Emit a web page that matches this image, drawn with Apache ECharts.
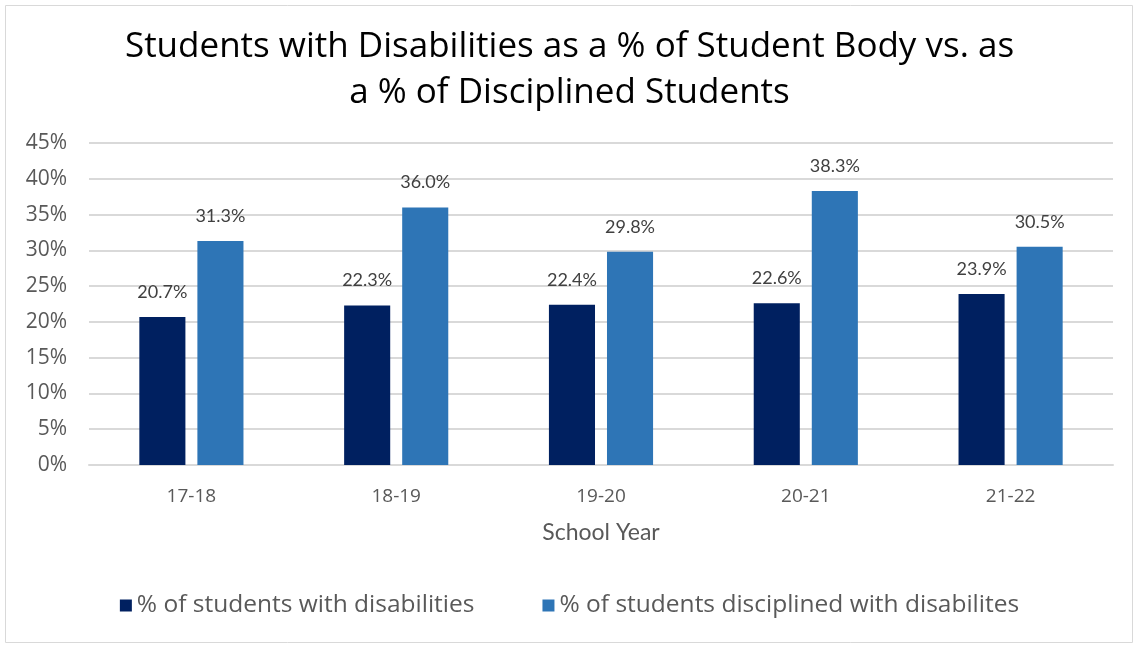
<!DOCTYPE html>
<html><head><meta charset="utf-8">
<script src="https://cdn.jsdelivr.net/npm/echarts@6/dist/echarts.min.js"></script>
<style>html,body{margin:0;padding:0;background:#fff}#c{width:1139px;height:648px}</style>
</head><body><div id="c"></div>
<script>
const categories = ['17-18','18-19','19-20','20-21','21-22'];
const pctWithDisabilities = [20.7, 22.3, 22.4, 22.6, 23.9];
const pctDisciplinedWithDisabilities = [31.3, 36.0, 29.8, 38.3, 30.5];
const seriesNames = ['% of students with disabilities','% of students disciplined with disabilites'];
const titleText = 'Students with Disabilities as a % of Student Body vs. as\na % of Disciplined Students';

const chart = echarts.init(document.getElementById('c'));
const labelStyle = {show:true, position:'top', distance:16, color:'#404040', fontSize:18, fontFamily:'Lato', formatter: p => p.value.toFixed(1) + '%'};
chart.setOption({
  animation:false,
  graphic:[{type:'rect', shape:{x:5.5,y:5.5,width:1127,height:637}, style:{fill:'none', stroke:'#d9d9d9', lineWidth:1}, silent:true}],
  title:{text:titleText, left:'center', top:19, textStyle:{fontFamily:'Open Sans', fontWeight:'normal', fontSize:35, lineHeight:46, color:'#000'}},
  legend:{bottom:25, left:'center', itemGap:68, itemWidth:12, itemHeight:12, icon:'rect',
    textStyle:{fontFamily:'Open Sans', fontSize:24.5, color:'#595959'}, data:seriesNames},
  grid:{left:89, right:26, top:143, bottom:183},
  xAxis:{type:'category', data:categories,
    axisLine:{lineStyle:{color:'#d9d9d9', width:2}}, axisTick:{show:false},
    axisLabel:{margin:22, fontSize:19, color:'#595959', fontFamily:'Open Sans'},
    name:'School Year', nameLocation:'middle', nameGap:56,
    nameTextStyle:{fontSize:23, color:'#595959', fontFamily:'Lato'}},
  yAxis:{type:'value', min:0, max:45, interval:5,
    axisLabel:{formatter:'{value}%', margin:22, fontSize:21, color:'#595959', fontFamily:'Open Sans'},
    splitLine:{lineStyle:{color:'#d9d9d9', width:2}}, axisLine:{show:false}},
  series:[
    {name:seriesNames[0], type:'bar', data:pctWithDisabilities, barWidth:'22.5%', barGap:'26%', itemStyle:{color:'#002060'}, label:labelStyle},
    {name:seriesNames[1], type:'bar', data:pctDisciplinedWithDisabilities, barWidth:'22.5%', barGap:'26%', itemStyle:{color:'#2E75B6'}, label:labelStyle}
  ]
});
</script></body></html>
